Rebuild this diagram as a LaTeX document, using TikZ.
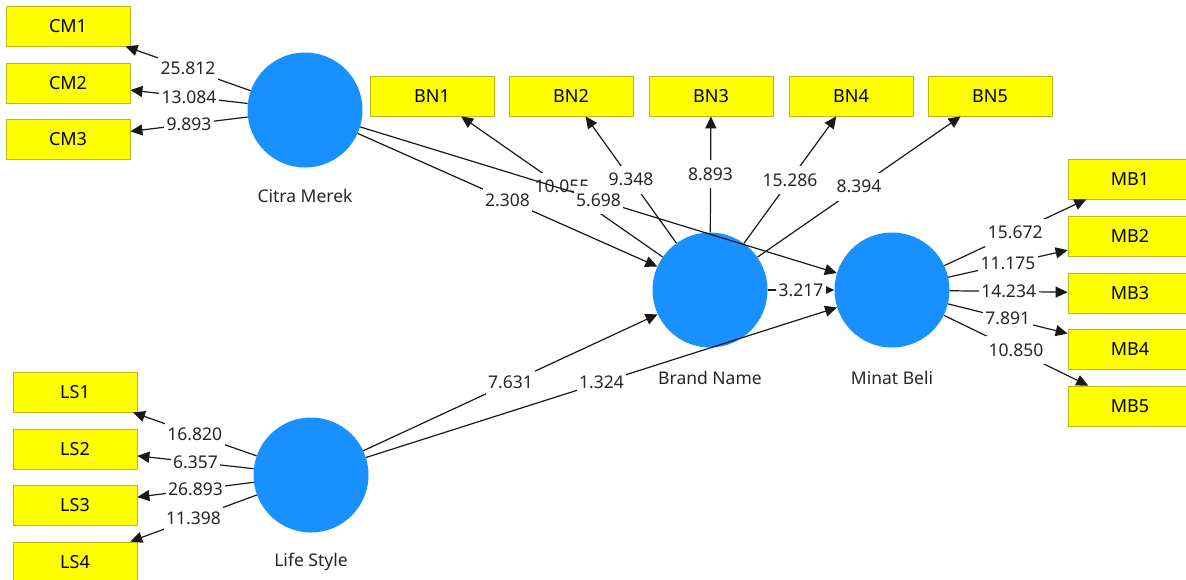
\documentclass[tikz,border=0pt]{standalone}
\usepackage{fontspec}
\setmainfont{Noto Sans}
\usetikzlibrary{arrows.meta}
\definecolor{lvblue}{RGB}{24,144,255}
\definecolor{indyellow}{RGB}{255,255,0}
\definecolor{indborder}{RGB}{185,185,30}
\definecolor{pathgray}{RGB}{25,25,25}
\begin{document}
\begin{tikzpicture}[x=1pt,y=-1pt,
  latent/.style={circle,fill=lvblue,minimum size=115pt,inner sep=0pt},
  indicator/.style={rectangle,fill=indyellow,draw=indborder,line width=0.8pt,
    minimum width=124pt,minimum height=40pt,inner sep=0pt,
    font=\fontsize{18}{20}\selectfont},
  lvname/.style={font=\fontsize{17.5}{20}\selectfont,text=black!85},
  conn/.style={draw=pathgray,line width=1.2pt,-{Triangle[length=12pt,width=11pt]}},
  coef/.style={midway,fill=white,inner xsep=2.5pt,inner ysep=0pt,
    minimum height=28pt,text=black!85,font=\fontsize{17.5}{20}\selectfont}
]
\clip (0,0) rectangle (1186,579);
\fill[white] (0,0) rectangle (1186,579);

% latent variables
\node[latent] (cm) at (305,110) {};
\node[latent] (ls) at (311,475) {};
\node[latent] (bn) at (710,290) {};
\node[latent] (mb) at (892,290) {};
\node[lvname] (cmlab) at (305,196) {Citra Merek};
\node[lvname] (lslab) at (311,562) {Life Style};
\node[lvname] (bnlab) at (710,378) {Brand Name};
\node[lvname] (mblab) at (892,378) {Minat Beli};

% indicators
\node[indicator] (cm1) at (68,26) {CM1};
\node[indicator] (cm2) at (68,83) {CM2};
\node[indicator] (cm3) at (68,139) {CM3};
\node[indicator] (ls1) at (75,392) {LS1};
\node[indicator] (ls2) at (75,449) {LS2};
\node[indicator] (ls3) at (75,505) {LS3};
\node[indicator] (ls4) at (75,562) {LS4};
\node[indicator] (bn1) at (432,96) {BN1};
\node[indicator] (bn2) at (571,96) {BN2};
\node[indicator] (bn3) at (711,96) {BN3};
\node[indicator] (bn4) at (851,96) {BN4};
\node[indicator] (bn5) at (990,96) {BN5};
\node[indicator] (mb1) at (1130,179) {MB1};
\node[indicator] (mb2) at (1130,236) {MB2};
\node[indicator] (mb3) at (1130,293) {MB3};
\node[indicator] (mb4) at (1130,349) {MB4};
\node[indicator] (mb5) at (1130,406) {MB5};

% outer loadings
\draw[conn] (cm) -- (cm1) node[coef] {25.812};
\draw[conn] (cm) -- (cm2) node[coef] {13.084};
\draw[conn] (cm) -- (cm3) node[coef] {9.893};
\draw[conn] (ls) -- (ls1) node[coef] {16.820};
\draw[conn] (ls) -- (ls2) node[coef] {6.357};
\draw[conn] (ls) -- (ls3) node[coef] {26.893};
\draw[conn] (ls) -- (ls4) node[coef] {11.398};
\draw[conn] (bn) -- (bn1) node[coef] {10.055};
\draw[conn] (bn) -- (bn2) node[coef] {9.348};
\draw[conn] (bn) -- (bn3) node[coef] {8.893};
\draw[conn] (bn) -- (bn4) node[coef] {15.286};
\draw[conn] (bn) -- (bn5) node[coef] {8.394};

% inner model
\draw[conn] (cm) -- (bn) node[coef] {2.308};
\draw[conn] (cm) -- (mb) node[coef] {5.698};
\draw[conn] (ls) -- (bn) node[coef] {7.631};
\draw[conn] (ls) -- (mb) node[coef] {1.324};
\draw[conn] (bn) -- (mb) node[coef] {3.217};

\draw[conn] (mb) -- (mb1) node[coef] {15.672};
\draw[conn] (mb) -- (mb2) node[coef] {11.175};
\draw[conn] (mb) -- (mb3) node[coef] {14.234};
\draw[conn] (mb) -- (mb4) node[coef] {7.891};
\draw[conn] (mb) -- (mb5) node[coef] {10.850};
\end{tikzpicture}
\end{document}
